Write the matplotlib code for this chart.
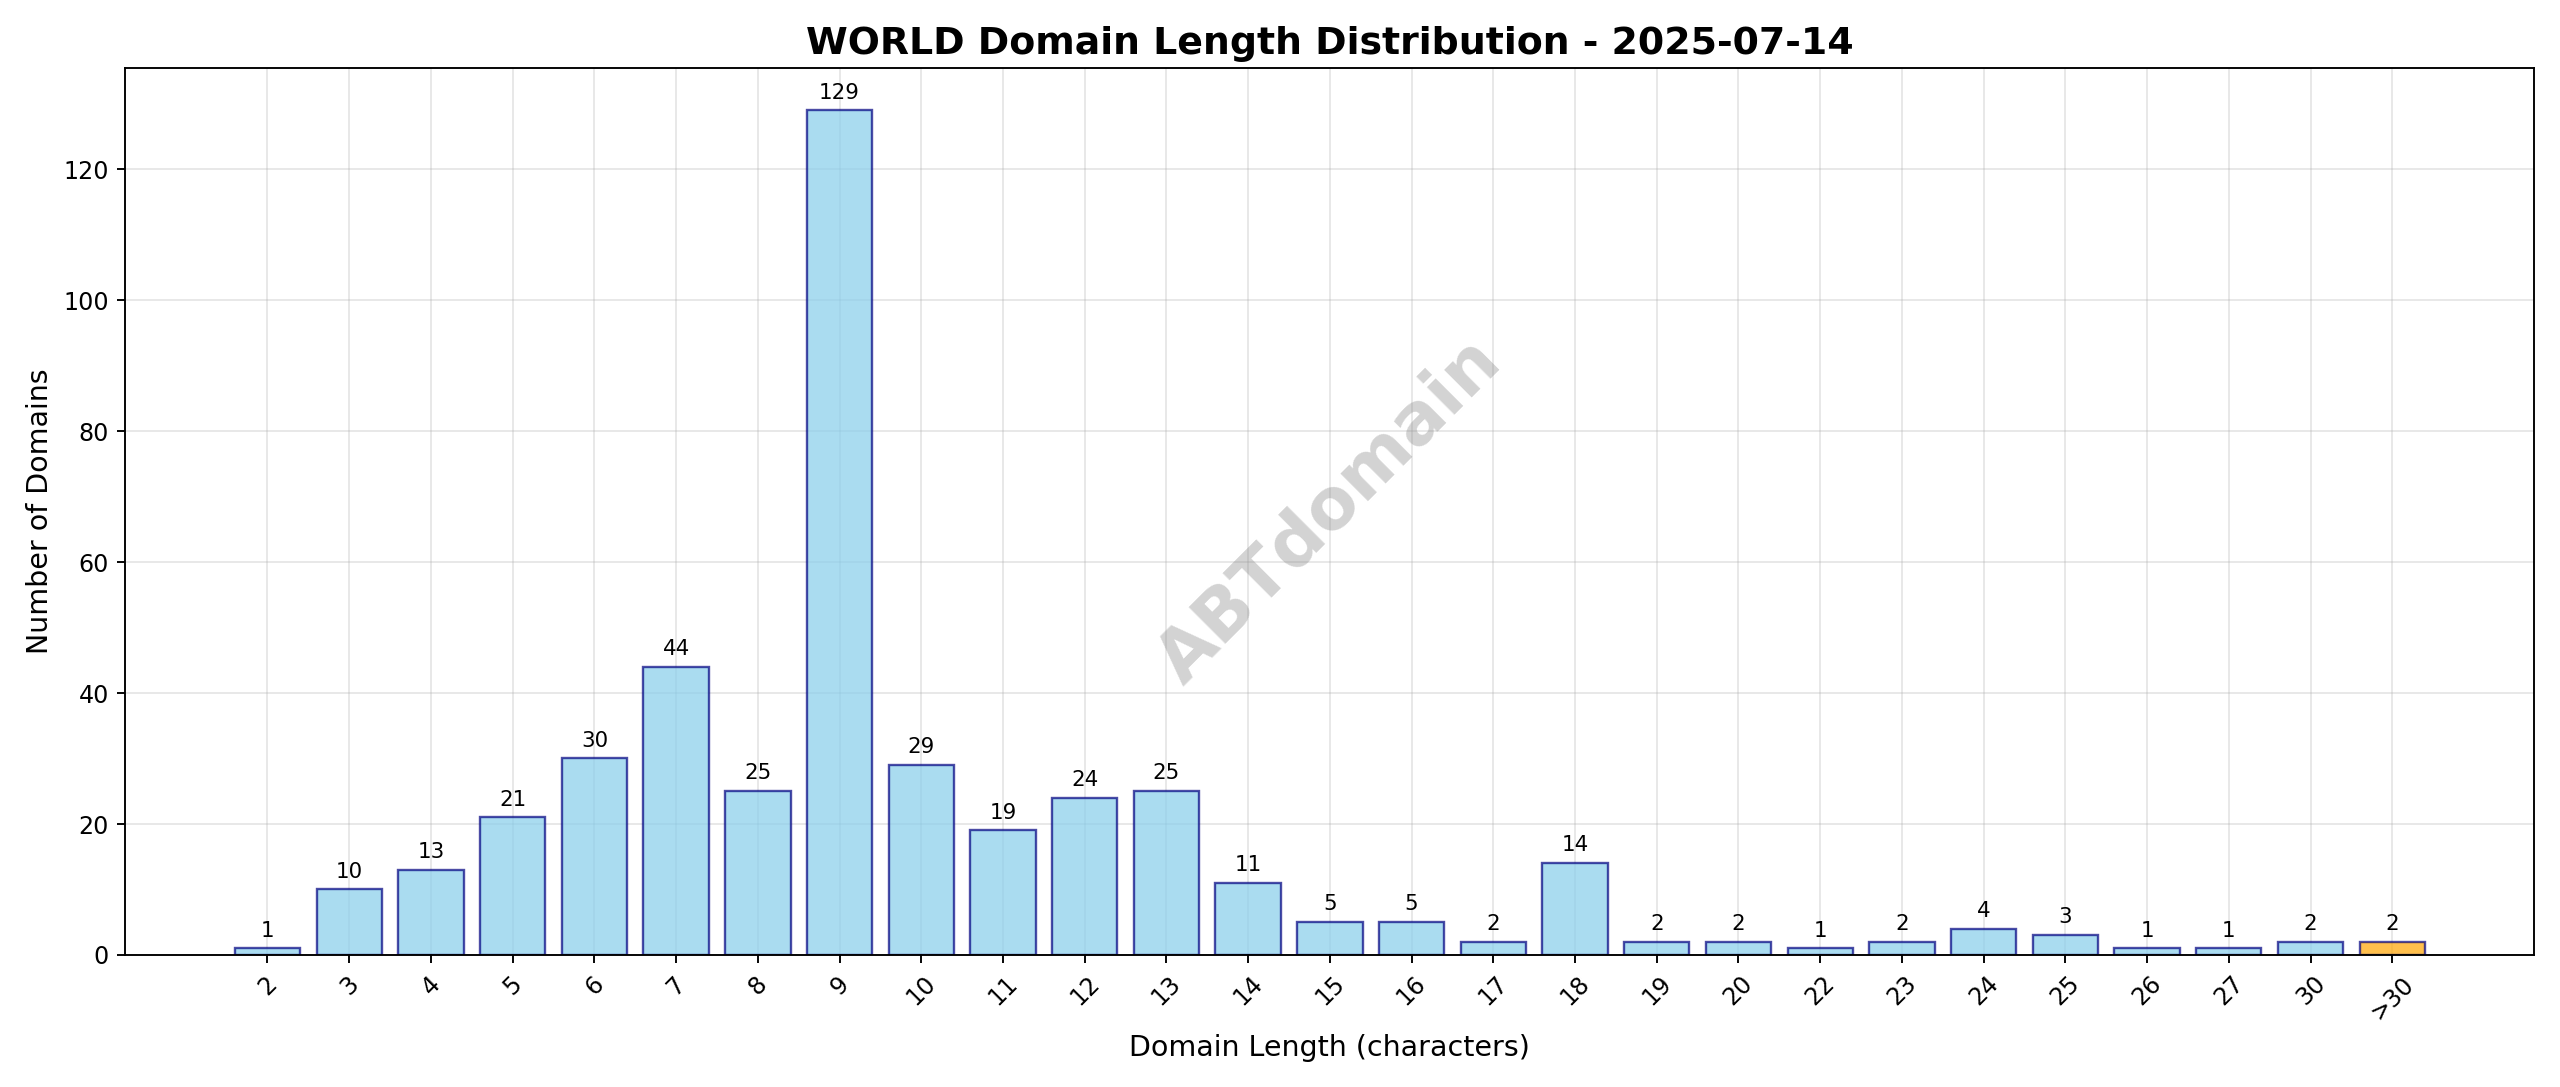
import matplotlib
matplotlib.use("Agg")
import matplotlib.pyplot as plt

labels = ["2","3","4","5","6","7","8","9","10","11","12","13","14","15","16","17","18","19","20","22","23","24","25","26","27","30",">30"]
counts = [1,10,13,21,30,44,25,129,29,19,24,25,11,5,5,2,14,2,2,1,2,4,3,1,1,2,2]

fig, ax = plt.subplots(figsize=(15, 6.37), dpi=170.67)
colors = ["skyblue"]*(len(labels)-1) + ["orange"]
x = range(len(labels))
bars = ax.bar(x, counts, color=colors, edgecolor="navy", alpha=0.7, linewidth=1)
for xi, c in zip(x, counts):
    ax.text(xi, c + 1.2, str(c), ha="center", va="bottom", fontsize=9)
ax.set_xticks(list(x))
ax.set_xticklabels(labels, rotation=45)
ax.set_ylim(0, 135.5)
ax.grid(True, alpha=0.3)
ax.set_axisbelow(True)
ax.set_title("WORLD Domain Length Distribution - 2025-07-14", fontsize=16, fontweight="bold")
ax.set_xlabel("Domain Length (characters)", fontsize=12)
ax.set_ylabel("Number of Domains", fontsize=12)
ax.text(0.5, 0.5, "ABTdomain", transform=ax.transAxes, fontsize=30, color="gray",
        alpha=0.35, rotation=45, ha="center", va="center", fontweight="bold")
plt.tight_layout()
plt.savefig("out.png")
